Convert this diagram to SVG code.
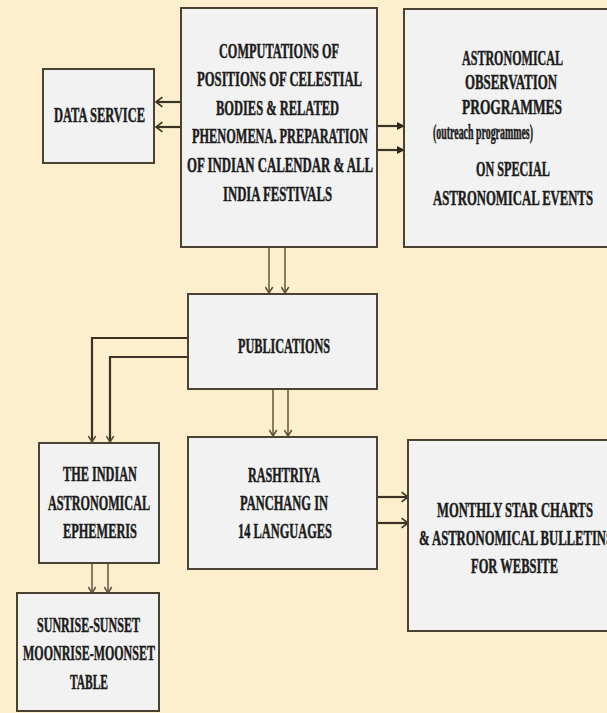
<svg xmlns="http://www.w3.org/2000/svg" width="607" height="713" viewBox="0 0 607 713">
<style>
.box{fill:#f2f2f2;stroke:#4a4232;stroke-width:2}
.t{font-family:"Liberation Serif","Times New Roman",serif;font-weight:bold;font-size:22px;fill:#1c1c1c;stroke:#1c1c1c;stroke-width:0.5}
.s{font-size:20px}
.dk{fill:none;stroke:#3a3222;stroke-width:2.2}
.lt{fill:none;stroke:#6a5f48;stroke-width:1.6}
</style>
<defs>
<marker id="openDark" viewBox="0 0 10 14" refX="9" refY="7" markerWidth="8" markerHeight="12" markerUnits="userSpaceOnUse" orient="auto">
<path d="M1,1 L9,7 L1,13" fill="none" stroke="#3a3222" stroke-width="2"/>
</marker>
<marker id="filled" viewBox="0 0 10 10" refX="9" refY="5" markerWidth="8" markerHeight="9" markerUnits="userSpaceOnUse" orient="auto">
<path d="M0,0 L10,5 L0,10 Z" fill="#2a2418"/>
</marker>
<marker id="openLight" viewBox="0 0 10 12" refX="9" refY="6" markerWidth="9" markerHeight="9" markerUnits="userSpaceOnUse" orient="auto">
<path d="M1,1 L9,6 L1,11" fill="none" stroke="#5a5038" stroke-width="2"/>
</marker>
</defs>
<rect x="0" y="0" width="607" height="713" fill="#fdefce"/>

<g id="connectors">
<path class="dk" d="M181,102 H156" marker-end="url(#openDark)"/>
<path class="dk" d="M181,127 H156" marker-end="url(#openDark)"/>
<path class="dk" d="M377,126 H404" marker-end="url(#filled)"/>
<path class="dk" d="M377,150 H404" marker-end="url(#filled)"/>
<path class="lt" d="M269,247 V293" marker-end="url(#openLight)"/>
<path class="lt" d="M285,247 V293" marker-end="url(#openLight)"/>
<path class="dk" d="M188,338 H92 V442" marker-end="url(#openLight)"/>
<path class="dk" d="M188,357 H110 V442" marker-end="url(#openLight)"/>
<path class="lt" d="M273,389 V436" marker-end="url(#openLight)"/>
<path class="lt" d="M288,389 V436" marker-end="url(#openLight)"/>
<path class="lt" d="M92,563 V593" marker-end="url(#openLight)"/>
<path class="lt" d="M108,563 V593" marker-end="url(#openLight)"/>
<path class="dk" d="M377,497 H408" marker-end="url(#openDark)"/>
<path class="dk" d="M377,523 H408" marker-end="url(#openDark)"/>
</g>

<g id="data-service">
<rect class="box" x="43" y="69" width="111" height="94"/>
<text class="t" transform="translate(54,122) scale(0.53,1)" textLength="171.7" lengthAdjust="spacingAndGlyphs">DATA SERVICE</text>
</g>

<g id="computations">
<rect class="box" x="181" y="8" width="196" height="239"/>
<text class="t" transform="translate(219,58) scale(0.53,1)" textLength="226.4" lengthAdjust="spacingAndGlyphs">COMPUTATIONS OF</text>
<text class="t" transform="translate(197,86) scale(0.53,1)" textLength="311.3" lengthAdjust="spacingAndGlyphs">POSITIONS OF CELESTIAL</text>
<text class="t" transform="translate(216,115) scale(0.53,1)" textLength="232.1" lengthAdjust="spacingAndGlyphs">BODIES &amp; RELATED</text>
<text class="t" transform="translate(192,143) scale(0.53,1)" textLength="332.1" lengthAdjust="spacingAndGlyphs">PHENOMENA.  PREPARATION</text>
<text class="t" transform="translate(187,172) scale(0.53,1)" textLength="350.9" lengthAdjust="spacingAndGlyphs">OF INDIAN CALENDAR &amp; ALL</text>
<text class="t" transform="translate(223,201) scale(0.53,1)" textLength="205.7" lengthAdjust="spacingAndGlyphs">INDIA FESTIVALS</text>
</g>

<g id="astronomical-observation">
<rect class="box" x="404" y="9" width="216" height="238"/>
<text class="t" transform="translate(462,65) scale(0.53,1)" textLength="190.6" lengthAdjust="spacingAndGlyphs">ASTRONOMICAL</text>
<text class="t" transform="translate(465,89) scale(0.53,1)" textLength="173.6" lengthAdjust="spacingAndGlyphs">OBSERVATION</text>
<text class="t" transform="translate(462,114) scale(0.53,1)" textLength="188.7" lengthAdjust="spacingAndGlyphs">PROGRAMMES</text>
<text class="t s" transform="translate(433,139) scale(0.53,1)" textLength="188.7" lengthAdjust="spacingAndGlyphs">(outreach programmes)</text>
<text class="t" transform="translate(476,176) scale(0.53,1)" textLength="139.6" lengthAdjust="spacingAndGlyphs">ON SPECIAL</text>
<text class="t" transform="translate(433,205) scale(0.53,1)" textLength="301.9" lengthAdjust="spacingAndGlyphs">ASTRONOMICAL  EVENTS</text>
</g>

<g id="publications">
<rect class="box" x="188" y="294" width="189" height="95"/>
<text class="t" transform="translate(238,353) scale(0.53,1)" textLength="173.6" lengthAdjust="spacingAndGlyphs">PUBLICATIONS</text>
</g>

<g id="ephemeris">
<rect class="box" x="39" y="443" width="120" height="120"/>
<text class="t" transform="translate(63,481) scale(0.53,1)" textLength="139.6" lengthAdjust="spacingAndGlyphs">THE INDIAN</text>
<text class="t" transform="translate(48,510) scale(0.53,1)" textLength="192.5" lengthAdjust="spacingAndGlyphs">ASTRONOMICAL</text>
<text class="t" transform="translate(63,538) scale(0.53,1)" textLength="139.6" lengthAdjust="spacingAndGlyphs">EPHEMERIS</text>
</g>

<g id="rashtriya-panchang">
<rect class="box" x="188" y="437" width="189" height="132"/>
<text class="t" transform="translate(248,482) scale(0.53,1)" textLength="135.8" lengthAdjust="spacingAndGlyphs">RASHTRIYA</text>
<text class="t" transform="translate(240,510) scale(0.53,1)" textLength="166" lengthAdjust="spacingAndGlyphs">PANCHANG  IN</text>
<text class="t" transform="translate(238,538) scale(0.53,1)" textLength="177.4" lengthAdjust="spacingAndGlyphs">14  LANGUAGES</text>
</g>

<g id="monthly-star-charts">
<rect class="box" x="408" y="440" width="214" height="191"/>
<text class="t" transform="translate(437,517) scale(0.53,1)" textLength="294.3" lengthAdjust="spacingAndGlyphs">MONTHLY STAR CHARTS</text>
<text class="t" transform="translate(419,545) scale(0.53,1)" textLength="366" lengthAdjust="spacingAndGlyphs">&amp; ASTRONOMICAL BULLETINS</text>
<text class="t" transform="translate(471,573) scale(0.53,1)" textLength="164.2" lengthAdjust="spacingAndGlyphs">FOR WEBSITE</text>
</g>

<g id="sunrise-table">
<rect class="box" x="17" y="593" width="142" height="118"/>
<text class="t" transform="translate(37,632) scale(0.53,1)" textLength="194.3" lengthAdjust="spacingAndGlyphs">SUNRISE-SUNSET</text>
<text class="t" transform="translate(23,660) scale(0.53,1)" textLength="249" lengthAdjust="spacingAndGlyphs">MOONRISE-MOONSET</text>
<text class="t" transform="translate(70,689) scale(0.53,1)" textLength="71.7" lengthAdjust="spacingAndGlyphs">TABLE</text>
</g>
</svg>
